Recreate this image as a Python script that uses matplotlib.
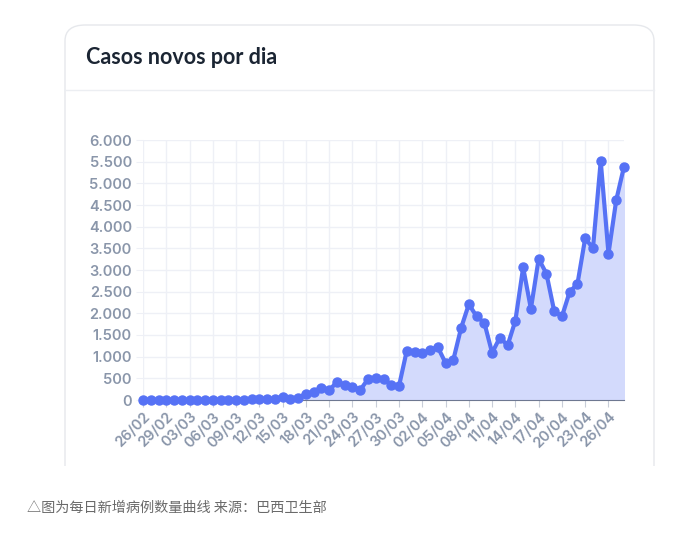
import numpy as np
import matplotlib.pyplot as plt
from matplotlib.patches import FancyBboxPatch
from matplotlib.ticker import FuncFormatter

# daily new cases, 26/02 .. 28/04
dates = ["26/02", "27/02", "28/02", "29/02"] + \
        ["%02d/03" % d for d in range(1, 32)] + \
        ["%02d/04" % d for d in range(1, 29)]
cases = [1, 0, 0, 1, 0, 0, 0, 1, 5, 5, 6, 1, 5, 9, 18, 25, 21, 23, 79, 34,
         57, 137, 193, 283, 224, 418, 345, 310, 232, 482, 502, 487, 352, 323,
         1138, 1119, 1074, 1146, 1222, 852, 926, 1661, 2210, 1930, 1781, 1089,
         1442, 1261, 1832, 3058, 2105, 3257, 2917, 2055, 1927, 2498, 2678,
         3735, 3503, 5514, 3379, 4613, 5385]
yticks = list(range(0, 6001, 500))

W, H = 677, 533
fig = plt.figure(figsize=(W / 100, H / 100), dpi=100)
fig.patch.set_facecolor("white")

def fx(px):
    return px / W

def fy(py):
    return 1 - py / H

# card
card = FancyBboxPatch((fx(65), fy(500)), fx(654) - fx(65), fy(25) - fy(500),
                      boxstyle="round,pad=0,rounding_size=0.03",
                      transform=fig.transFigure, facecolor="white",
                      edgecolor="#e6e8ec", linewidth=1, zorder=-3)
fig.patches.append(card)
# hide card bottom
fig.patches.append(plt.Rectangle((fx(60), fy(533)), fx(600), fy(466) - fy(533),
                                 transform=fig.transFigure, facecolor="white",
                                 edgecolor="none", zorder=-2))
fig.add_artist(plt.Line2D([fx(65), fx(654)], [fy(90), fy(90)],
                          transform=fig.transFigure, color="#eceef2", lw=1))
fig.text(fx(86), fy(57), "Casos novos por dia", fontsize=15.5, fontweight="bold",
         color="#1b2533", family="Lato", va="center", ha="left")
fig.text(fx(27), fy(508), "△图为每日新增病例数量曲线 来源：巴西卫生部", fontsize=10.2,
         color="#6a6a6a", family=["Noto Sans CJK SC", "DejaVu Sans"],
         va="center", ha="left")

ax = fig.add_axes([fx(143), fy(400), fx(624) - fx(143), fy(140) - fy(400)])
ax.set_zorder(5)
ax.patch.set_alpha(0)
x = np.arange(len(cases))
line_c = "#5672f5"
ax.fill_between(x, cases, 0, color="#d3dafc", zorder=1)
ax.plot(x, cases, color=line_c, lw=3, marker="o", ms=6.5, zorder=3, clip_on=False)

ax.set_xlim(0, len(cases) - 1)
ax.set_ylim(0, 6000)
ax.set_yticks(yticks)
ax.yaxis.set_major_formatter(FuncFormatter(lambda v, p: "{:,}".format(int(v)).replace(",", ".")))
tick_idx = list(range(0, len(cases), 3))
ax.set_xticks(tick_idx)
ax.set_xticklabels([dates[i] for i in tick_idx], rotation=45, ha="right",
                   rotation_mode="anchor")
ax.grid(True, color="#eef0f6", lw=1)
ax.set_axisbelow(True)
for s in ["top", "right", "left"]:
    ax.spines[s].set_visible(False)
ax.spines["bottom"].set_color("#6e7891")
ax.tick_params(axis="both", colors="#8a96aa", labelsize=10.5, length=5)
ax.tick_params(axis="y", color="#eef0f6", pad=3)
ax.yaxis.get_major_ticks()[0].tick1line.set_color("#6e7891")
ax.tick_params(axis="x", color="#c8cdd8", pad=2)
for lbl in ax.get_xticklabels() + ax.get_yticklabels():
    lbl.set_fontweight("semibold")
    lbl.set_family("Inter")

fig.savefig("out.png", dpi=100, facecolor="white")
